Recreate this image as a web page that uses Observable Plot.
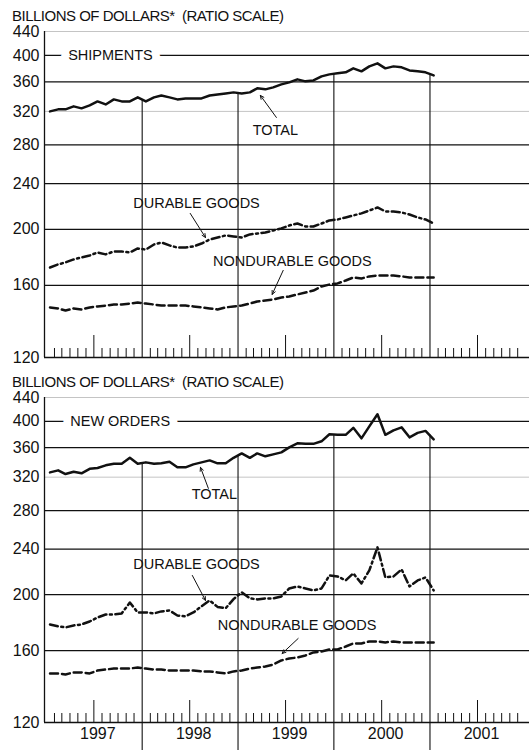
<!DOCTYPE html>
<html><head><meta charset="utf-8">
<script src="https://cdn.jsdelivr.net/npm/d3@7"></script>
<script src="https://cdn.jsdelivr.net/npm/@observablehq/plot@0.6"></script>
<style>
body{margin:0;background:#fff;width:529px;height:750px;overflow:hidden;font-family:"Liberation Sans",Arial,sans-serif;color:#111}
.title{font-size:15px;line-height:15px;padding-left:12px;letter-spacing:-0.5px;white-space:nowrap}
#t1{height:15px;padding-top:8px}
#t2{height:15px;padding-top:9px}
svg{display:block}
</style></head><body>
<div class="title" id="t1">BILLIONS OF DOLLARS*&nbsp; (RATIO SCALE)</div>
<div id="p1"></div>
<div class="title" id="t2">BILLIONS OF DOLLARS*&nbsp; (RATIO SCALE)</div>
<div id="p2"></div>
<script>
// Monthly values, Jan 1997 – Jan 2001 (billions of dollars)
const shipTotal = [320, 322.6, 322.6, 326.5, 323.9, 327.8, 333, 329, 335.7, 333, 333, 338.4,
  333, 338.4, 341, 338.4, 335.7, 337, 337, 337, 341, 342.4, 343.8, 345.2,
  343.8, 345.2, 350.8, 349.4, 352.2, 356.4, 359.2, 363.6, 360.7, 362.1, 367.9, 370.9,
  372.4, 373.9, 379.9, 375.4, 382.9, 387.5, 379.9, 382.9, 381.4, 376.8, 375.4, 373.9,
  369.4];
const shipDurable = [171.8, 173.9, 175.3, 177.4, 178.8, 180.2, 182.4, 181, 183.1, 183.1, 182.4, 185.3,
  184.5, 188.3, 189.8, 187.6, 186, 186, 186.8, 189, 192, 193.6, 195.2, 194.4,
  193.6, 196, 196.7, 197.5, 199.1, 200.7, 203.1, 204.7, 202.3, 202.3, 204.7, 207.2,
  208, 209.7, 211.4, 213.1, 215.6, 218.2, 214.8, 214.8, 213.9, 212.2, 209.7, 208,
  204.7];
const shipNondurable = [146.5, 145.9, 144.7, 145.9, 145.3, 146.5, 147.1, 147.6, 148.2, 148.2, 148.8, 149.4,
  148.8, 148.2, 147.6, 147.6, 147.6, 147.6, 147.1, 146.5, 145.9, 145.3, 146.5, 147.1,
  147.6, 148.8, 150, 150.6, 151.2, 152.4, 153, 154.3, 155.5, 156.7, 159.3, 160.5,
  161.2, 163.1, 165.1, 164.4, 165.8, 166.4, 166.4, 166.4, 165.8, 165.1, 165.1, 165.1,
  165.1];
const orderTotal = [326.2, 328.8, 324, 327, 325, 330.8, 332, 335.5, 337.5, 337.5, 345.7, 337.5,
  339.5, 337.5, 338.2, 340.2, 332.8, 332.8, 336.8, 339.5, 342.2, 338.2, 338.2, 345.7,
  351.9, 345.7, 351.9, 347.8, 350.5, 353.3, 360.5, 366.3, 365.6, 365.6, 369.3, 379.8,
  379, 379, 389.8, 373.7, 392, 411.4, 379, 385.9, 390.5, 375.2, 382, 385,
  372.2];
const orderDurable = [177.6, 176.2, 175.5, 176.9, 177.6, 179.7, 182.6, 184.8, 184.8, 185.6, 193.9, 186.3,
  186.3, 185.6, 187.1, 187.8, 184.1, 183.4, 186.3, 191, 195.5, 190.5, 189.5, 196.5,
  202, 197.1, 196.3, 197.1, 197.1, 198.6, 205.1, 206.7, 205.1, 203.5, 205.1, 216,
  215.2, 211.8, 217.8, 209.2, 220.4, 241.7, 214.3, 215.2, 221.3, 206.7, 211.8, 214.3,
  203.5];
const orderNondurable = [146, 146, 145.4, 146.6, 146.6, 146, 147.7, 148.3, 148.9, 148.9, 148.9, 149.5,
  148.9, 148.3, 148.3, 147.7, 147.7, 147.7, 147.7, 147.2, 147.2, 146.6, 146, 147.2,
  147.7, 148.9, 149.5, 150.1, 151.3, 153.8, 155, 155.6, 156.9, 158.8, 159.4, 160.7,
  160.7, 162.6, 164.6, 164.6, 165.9, 165.9, 165.3, 165.9, 165.3, 165.3, 165.3, 165.3,
  165.3];

const yTicks = [120, 160, 200, 240, 280, 320, 360, 400, 440];
const gridSolid = [160, 200, 240, 280, 360, 400];
const gridFaint = [320, 440];
const yearLabels = ["1997", "1998", "1999", "2000", "2001"];
const boundaryYears = [1998, 1999, 2000, 2001];

const topNotes = [
  {text: "TOTAL", date: "1999-05-23", value: 296.7},
  {text: "DURABLE GOODS", date: "1998-07-27", value: 221.7},
  {text: "NONDURABLE GOODS", date: "1999-07-27", value: 176}
];
const topArrows = [
  {d1: "1999-05-27", v1: 312.4, d2: "1999-03-27", v2: 341.1},
  {d1: "1998-07-03", v1: 213.1, d2: "1998-08-30", v2: 193.6},
  {d1: "1999-06-22", v1: 169.8, d2: "1999-05-11", v2: 154.3}
];
const bottomNotes = [
  {text: "TOTAL", date: "1998-10-03", value: 298.7},
  {text: "DURABLE GOODS", date: "1998-07-27", value: 225.8},
  {text: "NONDURABLE GOODS", date: "1999-08-14", value: 176.9}
];
const bottomArrows = [
  {d1: "1998-09-10", v1: 306, d2: "1998-08-11", v2: 332.8},
  {d1: "1998-07-11", v1: 216, d2: "1998-08-30", v2: 195.5},
  {d1: "1999-08-18", v1: 167.9, d2: "1999-06-18", v2: 158.1}
];

const U = (y, m, d) => new Date(Date.UTC(y, m, d));
const months = d3.utcMonth.range(U(1997, 0, 1), U(2001, 1, 1)).map(d => d3.utcDay.offset(d, 14));
const xDomain = [U(1996, 11, 25), U(2002, 0, 15)];
const monthTicks = d3.utcMonth.range(U(1997, 1, 1), U(2002, 0, 2)).filter(d => d.getUTCMonth() !== 6 && d.getUTCMonth() !== 0);
const midYears = d3.utcYear.range(U(1997, 0, 1), U(2002, 0, 1)).map(d => d3.utcMonth.offset(d, 6));
const FONT = '"Liberation Sans", Arial, sans-serif';

function series(arr) { return months.map((date, i) => ({date, value: arr[i]})); }

function panel({total, durable, nondurable, section, sectionDate, notes, arrows, height, marginBottom, years}) {
  const marginTop = 8;
  const frameH = height - marginTop - marginBottom;
  const bounds = boundaryYears.map(y => {
    const k = (y - 1997) * 12;
    return {date: U(y, 0, 1), value: (total[k - 1] + total[k]) / 2};
  });
  const marks = [
    Plot.ruleY(gridFaint, {stroke: "#c4c4c4", strokeWidth: 1}),
    Plot.ruleY(gridSolid, {stroke: "#111", strokeWidth: 1.2}),
    Plot.ruleY([120], {stroke: "#111", strokeWidth: 1.3}),
    Plot.ruleX([xDomain[0]], {stroke: "#111", strokeWidth: 1.3}),
    Plot.tickX(monthTicks, {x: d => d, insetTop: frameH - 9, stroke: "#111", strokeWidth: 1}),
    Plot.tickX(midYears, {x: d => d, insetTop: frameH - 22, stroke: "#111", strokeWidth: 1}),
    Plot.ruleX(bounds, {x: "date", y1: "value", y2: () => 120, stroke: "#111", strokeWidth: 1.1}),
    Plot.lineY(series(nondurable), {x: "date", y: "value", stroke: "#111", strokeWidth: 2.5, strokeDasharray: "8,4"}),
    Plot.lineY(series(durable), {x: "date", y: "value", stroke: "#111", strokeWidth: 2.5, strokeDasharray: "8,3.5,2,3.5"}),
    Plot.lineY(series(total), {x: "date", y: "value", stroke: "#111", strokeWidth: 2.5, strokeLinejoin: "round"}),
    Plot.text([section], {x: () => new Date(sectionDate), y: () => 400, text: d => d, textAnchor: "start",
      fill: "#111", stroke: "white", strokeWidth: 16, paintOrder: "stroke", fontSize: 14.5}),
    Plot.text(notes, {x: d => new Date(d.date), y: "value", text: "text", fill: "#111", fontSize: 14.5}),
    Plot.arrow(arrows, {x1: d => new Date(d.d1), y1: "v1", x2: d => new Date(d.d2), y2: "v2",
      stroke: "#111", strokeWidth: 1, headLength: 6, headAngle: 50}),
    Plot.axisY(yTicks, {tickSize: 0, tickPadding: 5, tickFormat: d => String(d), fontSize: 16, label: null})
  ];
  if (years) {
    marks.push(Plot.ruleX(bounds, {x: "date", insetTop: frameH, insetBottom: -marginBottom, stroke: "#111", strokeWidth: 1.1}));
    marks.push(Plot.text(yearLabels, {x: (d, i) => midYears[i], text: d => d, frameAnchor: "bottom", dy: 16, dx: 4, fontSize: 16, fill: "#111"}));
  }
  return Plot.plot({
    width: 529, height, marginLeft: 44, marginRight: 0, marginTop, marginBottom,
    style: {fontFamily: FONT, fontSize: "15px", background: "white", color: "#111"},
    x: {type: "utc", domain: xDomain, axis: null},
    y: {type: "log", domain: [120, 440], axis: null},
    marks
  });
}

document.getElementById("p1").append(panel({
  total: shipTotal, durable: shipDurable, nondurable: shipNondurable,
  section: "SHIPMENTS", sectionDate: "1997-03-25", notes: topNotes, arrows: topArrows,
  height: 342, marginBottom: 8, years: false
}));
document.getElementById("p2").append(panel({
  total: orderTotal, durable: orderDurable, nondurable: orderNondurable,
  section: "NEW ORDERS", sectionDate: "1997-04-02", notes: bottomNotes, arrows: bottomArrows,
  height: 361, marginBottom: 28, years: true
}));
</script>
</body></html>
